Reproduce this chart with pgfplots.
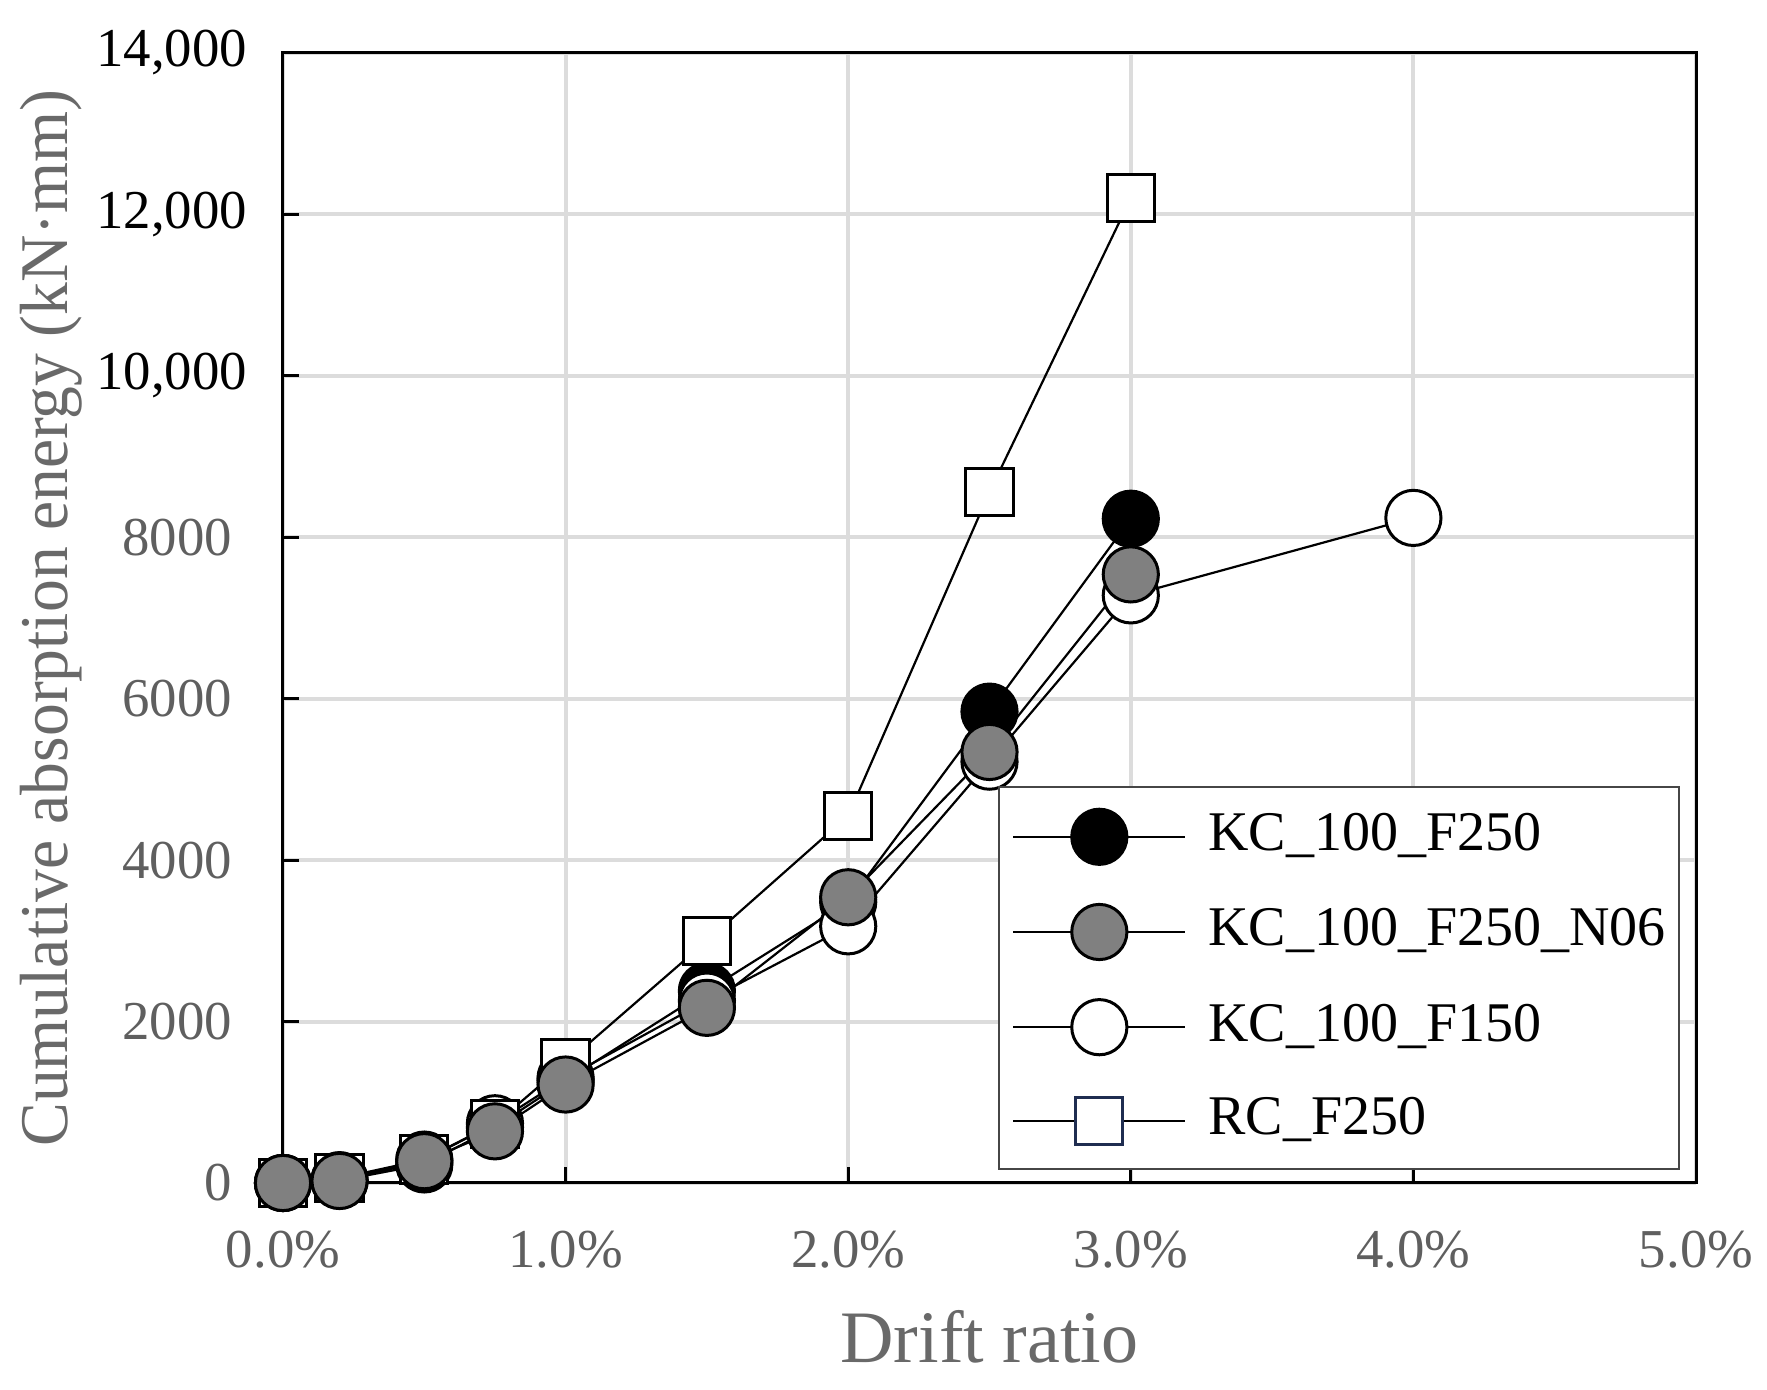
\documentclass[border=0pt]{standalone}
\usepackage{fontspec}
\setmainfont{Liberation Serif}
\usepackage{graphicx}
\usepackage{pgfplots}
\pgfplotsset{compat=1.18}
\definecolor{tg}{RGB}{95,95,95}
\definecolor{labg}{RGB}{105,105,105}
\definecolor{gridc}{RGB}{220,220,220}
\definecolor{fillg}{RGB}{128,128,128}
\definecolor{navy}{RGB}{31,45,80}
\definecolor{legb}{RGB}{70,70,70}
\newcommand{\bigtick}[1]{\textcolor{black}{#1}\hspace*{-3.75pt}}

\pgfplotstableread{
x y
0 0
0.2 30
0.5 230
0.75 690
1.0 1270
1.5 2380
2.0 3480
2.5 5840
3.0 8230
}\kcA
\pgfplotstableread{
x y
0 0
0.2 25
0.5 270
0.75 640
1.0 1220
1.5 2170
2.0 3540
2.5 5340
3.0 7540
}\kcB
\pgfplotstableread{
x y
0 0
0.2 35
0.5 290
0.75 740
1.0 1300
1.5 2260
2.0 3180
2.5 5220
3.0 7280
4.0 8240
}\kcC
\pgfplotstableread{
x y
0 0
0.2 60
0.5 290
0.75 730
1.0 1480
1.5 3000
2.0 4550
2.5 8560
3.0 12200
}\rc

\begin{document}
\begin{tikzpicture}
\begin{axis}[
  scale only axis, width=353.25pt, height=282.5pt,
  xmin=0, xmax=5, ymin=0, ymax=14000,
  clip=false,
  scaled y ticks=false, scaled x ticks=false,
  xtick={0,1,2,3,4,5},
  xticklabels={0.0\%,1.0\%,2.0\%,3.0\%,4.0\%,5.0\%},
  ytick={0,2000,4000,6000,8000,10000,12000,14000},
  yticklabels={\textcolor{tg}{0},\textcolor{tg}{2000},\textcolor{tg}{4000},\textcolor{tg}{6000},\textcolor{tg}{8000},{\bigtick{10,000}},{\bigtick{12,000}},{\bigtick{14,000}}},
  /pgf/number format/assume math mode=true,
  tick align=inside, xtick pos=bottom, ytick pos=left,
  major tick length=4pt,
  tick style={black, line width=0.75pt},
  grid=major, major grid style={gridc, line width=1pt},
  axis line style={black, line width=0.75pt},
  xticklabel style={font=\fontsize{13.7}{16}\selectfont, text=tg, anchor=north, inner sep=0pt},
  xticklabel shift=11.75pt,
  yticklabel style={font=\fontsize{13.7}{16}\selectfont, anchor=east, inner sep=0pt},
  yticklabel shift=12.5pt,
  xlabel={Drift ratio},
  xlabel style={font=\fontsize{18.5}{21}\selectfont, text=labg, at={([yshift=-45pt]axis description cs:0.5,0)}, anchor=base, inner sep=0pt},
  ylabel={\scalebox{1}[1.04]{Cumulative absorption energy (kN·mm)}},
  ylabel style={font=\fontsize{16.4}{19}\selectfont, text=labg, at={([xshift=-53.75pt]axis description cs:0,0.5)}, anchor=base, inner sep=0pt},
  legend image code/.code={\draw[mark repeat=2,mark phase=2,#1] plot coordinates {(0pt,0pt) (21.5pt,0pt) (43pt,0pt)};},
  legend style={at={(0.9887,0.0115)}, anchor=south east, draw=legb, line width=0.6pt,
    inner xsep=3.25pt, inner ysep=5.5pt, row sep=10pt, column sep=5.5pt,
    nodes={inner sep=0pt, text height=10pt, text depth=3pt, font=\fontsize{14}{17}\selectfont, text=black}},
  legend cell align=left,
]
\coordinate (bl) at (rel axis cs:0,0);
\coordinate (tr) at (rel axis cs:1,1);
\addplot[forget plot, black, line width=0.55pt, mark=*, mark size=6.9pt, mark options={solid, fill=black, draw=black, line width=0.75pt}] table[x=x,y=y] {\kcA};
\addplot[forget plot, black, line width=0.55pt, mark=*, mark size=6.9pt, mark options={solid, fill=white, draw=black, line width=0.75pt}] table[x=x,y=y] {\kcC};
\addplot[forget plot, black, line width=0.55pt, mark=square*, mark size=5.9pt, mark options={solid, fill=white, draw=black, line width=0.75pt}] table[x=x,y=y] {\rc};
\addplot[forget plot, black, line width=0.55pt, mark=*, mark size=6.9pt, mark options={solid, fill=fillg, draw=black, line width=0.75pt}] table[x=x,y=y] {\kcB};
\addlegendimage{black, line width=0.55pt, mark=*, mark size=6.9pt, mark options={solid, fill=black, draw=black, line width=0.75pt}}
\addlegendentry{KC\_100\_F250}
\addlegendimage{black, line width=0.55pt, mark=*, mark size=6.9pt, mark options={solid, fill=fillg, draw=black, line width=0.75pt}}
\addlegendentry{KC\_100\_F250\_N06}
\addlegendimage{black, line width=0.55pt, mark=*, mark size=6.9pt, mark options={solid, fill=white, draw=black, line width=0.75pt}}
\addlegendentry{KC\_100\_F150}
\addlegendimage{black, line width=0.55pt, mark=square*, mark size=5.9pt, mark options={solid, fill=white, draw=navy, line width=0.75pt}}
\addlegendentry{RC\_F250}
\end{axis}
\pgfresetboundingbox
\path ([shift={(-70.75pt,-51.75pt)}]bl) rectangle ([shift={(17.75pt,13.25pt)}]tr);
\end{tikzpicture}
\end{document}
